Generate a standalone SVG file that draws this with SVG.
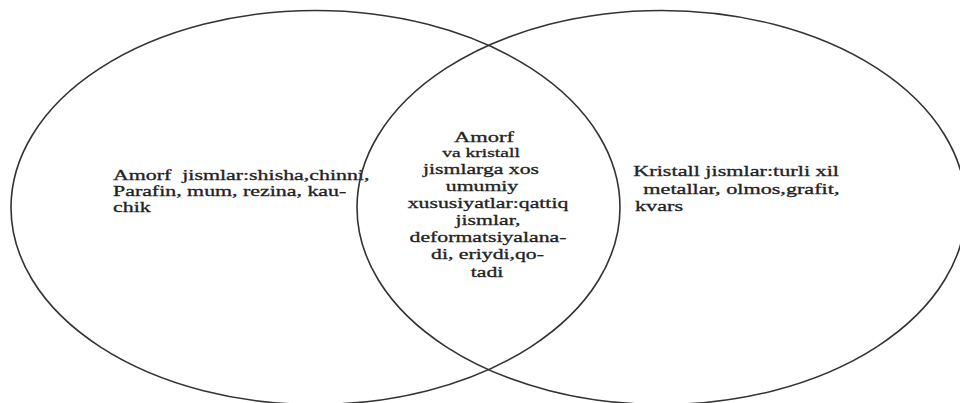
<svg xmlns="http://www.w3.org/2000/svg" width="960" height="403" viewBox="0 0 960 403">
<style>
.set{fill:none;stroke:#333;stroke-width:1.6}
.t{font-family:"Liberation Serif","Times New Roman",serif;font-size:15px;fill:#222;stroke:#222;stroke-width:0.3}
.c{text-anchor:middle}
</style>
<rect width="960" height="403" fill="#fff"/>
<g id="amorf">
<ellipse class="set" cx="315.5" cy="207.5" rx="304.5" ry="197"/>
<text class="t" xml:space="preserve" transform="translate(113,180.3) scale(1.46,1)">Amorf  jismlar:shisha,chinni,</text>
<text class="t" transform="translate(113,196) scale(1.46,1)">Parafin, mum, rezina, kau-</text>
<text class="t" transform="translate(113,211.7) scale(1.46,1)">chik</text>
</g>
<g id="kristall">
<ellipse class="set" cx="661.5" cy="207.5" rx="304.5" ry="197"/>
<text class="t" style="font-size:15.3px" transform="translate(633.3,176) scale(1.45,1)">Kristall jismlar:turli xil</text>
<text class="t" style="font-size:15.3px" transform="translate(643.3,193.5) scale(1.45,1)">metallar, olmos,grafit,</text>
<text class="t" style="font-size:15.3px" transform="translate(635,211) scale(1.45,1)">kvars</text>
</g>
<g id="umumiy">
<text class="t c" style="font-size:15.5px" transform="translate(484,141.7) scale(1.45,1)">Amorf</text>
<text class="t c" style="font-size:13.5px" transform="translate(481,157.3) scale(1.45,1)">va kristall</text>
<text class="t c" transform="translate(481,174.3) scale(1.45,1)">jismlarga xos</text>
<text class="t c" transform="translate(482,190.5) scale(1.45,1)">umumiy</text>
<text class="t c" transform="translate(488,207.7) scale(1.45,1)">xususiyatlar:qattiq</text>
<text class="t c" transform="translate(488,225) scale(1.45,1)">jismlar,</text>
<text class="t c" transform="translate(488,242.3) scale(1.45,1)">deformatsiyalana-</text>
<text class="t c" transform="translate(487.5,259.3) scale(1.45,1)">di, eriydi,qo-</text>
<text class="t c" transform="translate(487,276.7) scale(1.45,1)">tadi</text>
</g>
<g id="connectors"/>
</svg>
